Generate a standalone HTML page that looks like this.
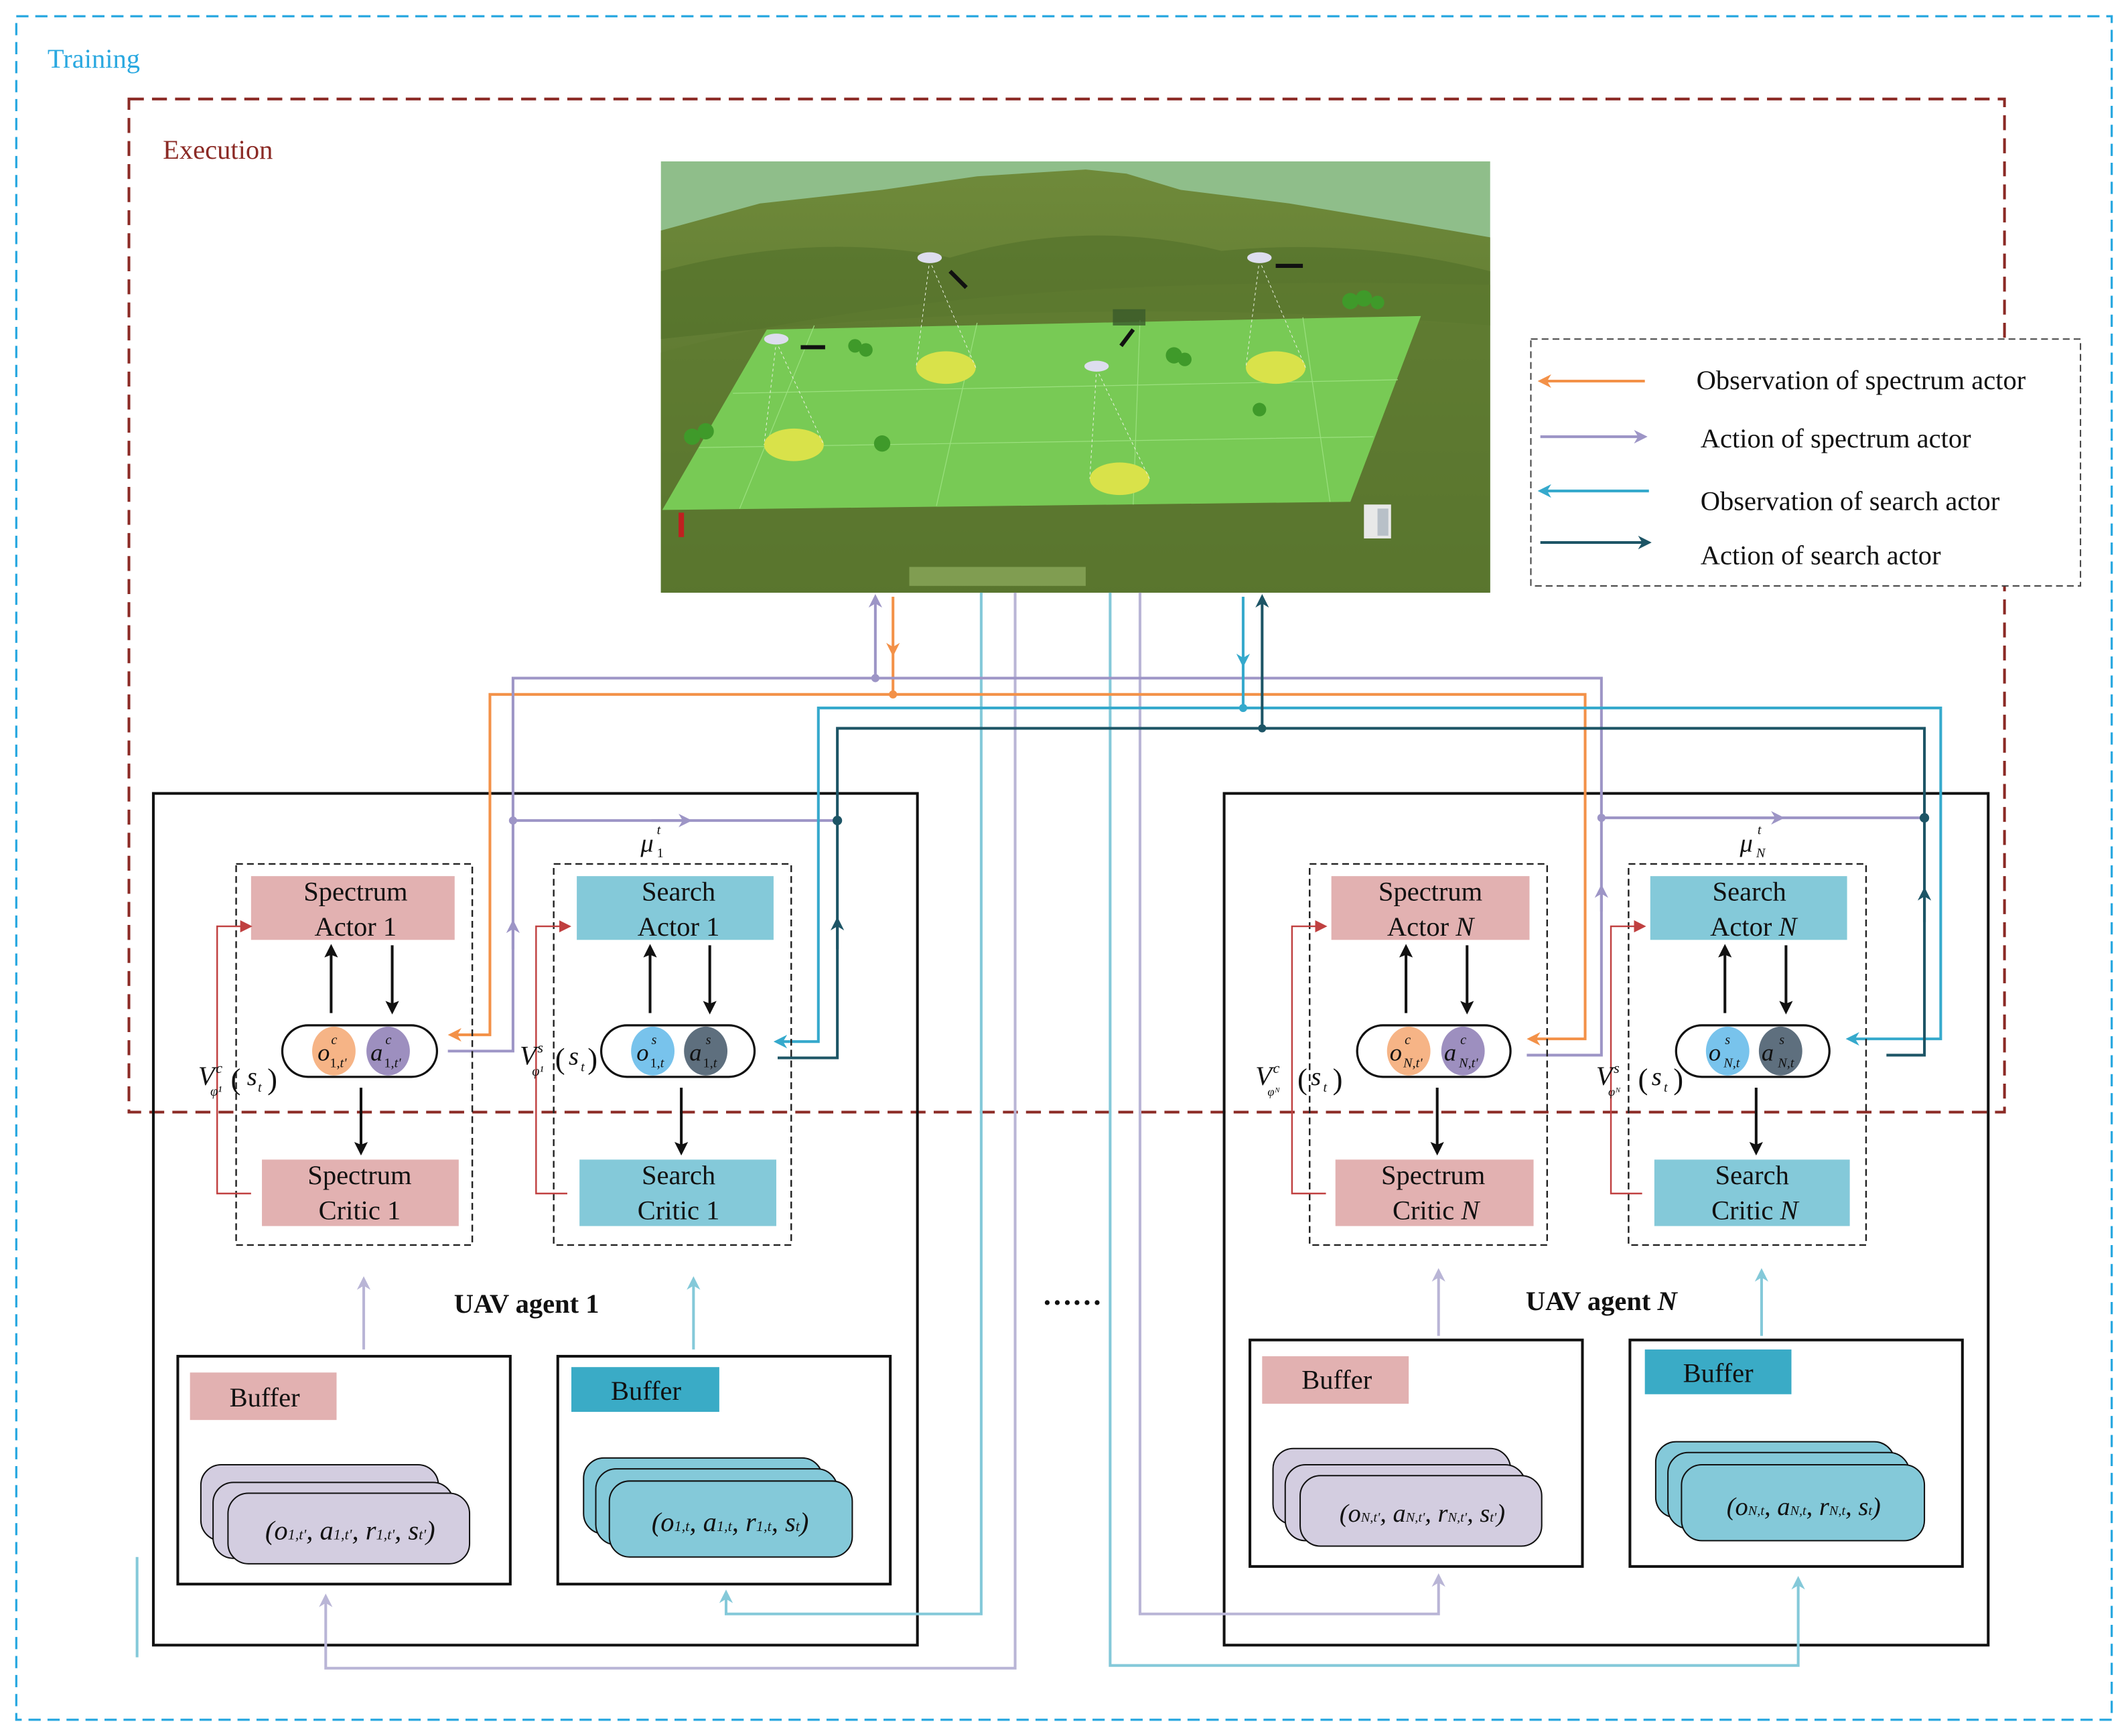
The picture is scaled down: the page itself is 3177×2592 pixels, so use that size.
<!DOCTYPE html>
<html><head><meta charset="utf-8"><style>
html,body{margin:0;padding:0;background:#fff}
svg{display:block}
text{font-family:"Liberation Serif",serif;fill:#111}
.it{font-style:italic}
</style></head><body>
<svg width="3177" height="2592" viewBox="0 0 1568 1280" preserveAspectRatio="none" xmlns="http://www.w3.org/2000/svg">
<defs>
<marker id="aO" markerWidth="10" markerHeight="10" refX="8" refY="5" orient="auto" markerUnits="userSpaceOnUse"><path d="M0,0 L10,5 L0,10 L3,5z" fill="#f39148"/></marker>
<marker id="aP" markerWidth="10" markerHeight="10" refX="8" refY="5" orient="auto" markerUnits="userSpaceOnUse"><path d="M0,0 L10,5 L0,10 L3,5z" fill="#9d95c6"/></marker>
<marker id="aL" markerWidth="10" markerHeight="10" refX="8" refY="5" orient="auto" markerUnits="userSpaceOnUse"><path d="M0,0 L10,5 L0,10 L3,5z" fill="#b9b5d6"/></marker>
<marker id="aC" markerWidth="10" markerHeight="10" refX="8" refY="5" orient="auto" markerUnits="userSpaceOnUse"><path d="M0,0 L10,5 L0,10 L3,5z" fill="#35a9cc"/></marker>
<marker id="aLC" markerWidth="10" markerHeight="10" refX="8" refY="5" orient="auto" markerUnits="userSpaceOnUse"><path d="M0,0 L10,5 L0,10 L3,5z" fill="#84c9d9"/></marker>
<marker id="aT" markerWidth="10" markerHeight="10" refX="8" refY="5" orient="auto" markerUnits="userSpaceOnUse"><path d="M0,0 L10,5 L0,10 L3,5z" fill="#1d5566"/></marker>
<marker id="aK" markerWidth="10" markerHeight="10" refX="8" refY="5" orient="auto" markerUnits="userSpaceOnUse"><path d="M0,0 L10,5 L0,10 L2,5z" fill="#111"/></marker>
<marker id="aR" markerWidth="9" markerHeight="9" refX="7" refY="4.5" orient="auto" markerUnits="userSpaceOnUse"><path d="M0,0 L9,4.5 L0,9z" fill="#c04040"/></marker>
<linearGradient id="gnd" x1="0" y1="0" x2="0" y2="1"><stop offset="0" stop-color="#6f8a3a"/><stop offset="1" stop-color="#4f6a2a"/></linearGradient>
</defs>

<rect x="12" y="12" width="1544" height="1256" fill="none" stroke="#29a8e0" stroke-width="1.6" stroke-dasharray="9,5"/>
<text x="35" y="50" font-size="20" style="fill:#29a8e0">Training</text>

<g>
<rect x="487" y="119" width="611" height="318" fill="#8fbe8a"/>
<path d="M487,170 L560,150 L650,140 L720,130 L800,125 L830,128 L870,140 L950,150 L1040,165 L1098,175 L1098,437 L487,437z" fill="url(#gnd)"/>
<path d="M487,200 Q600,170 700,190 Q800,160 900,185 Q1000,175 1098,200 L1098,240 Q800,215 487,250z" fill="#52702a" opacity="0.6"/>
<path d="M487,260 Q700,200 1098,210 L1098,437 L487,437z" fill="#5e7a30" opacity="0.7"/>
<path d="M565,243 L1047,233 L995,370 L488,376z" fill="#7bd35a" opacity="0.9"/>
<path d="M600,240 L545,375 M720,238 L690,373 M840,236 L835,372 M960,234 L980,370 M540,290 L1030,280 M515,330 L1012,322" stroke="#9be07e" stroke-width="0.6" fill="none"/>
<ellipse cx="585" cy="328" rx="22" ry="12" fill="#d9e24a"/>
<ellipse cx="697" cy="271" rx="22" ry="12" fill="#d9e24a"/>
<ellipse cx="940" cy="271" rx="22" ry="12" fill="#d9e24a"/>
<ellipse cx="825" cy="353" rx="22" ry="12" fill="#d9e24a"/>
<g stroke="#e8f0e0" stroke-width="0.5" stroke-dasharray="2,2" fill="none">
<path d="M572,252 L563,328 M572,252 L607,328 M685,192 L675,271 M685,192 L719,271 M928,192 L918,271 M928,192 L962,271 M808,272 L803,353 M808,272 L847,353"/>
</g>
<g fill="#dde">
<ellipse cx="572" cy="250" rx="9" ry="4"/><ellipse cx="685" cy="190" rx="9" ry="4"/><ellipse cx="928" cy="190" rx="9" ry="4"/><ellipse cx="808" cy="270" rx="9" ry="4"/>
</g>
<g fill="#3f9a2a">
<circle cx="630" cy="255" r="5"/><circle cx="638" cy="258" r="5"/><circle cx="865" cy="262" r="6"/><circle cx="873" cy="265" r="5"/>
<circle cx="995" cy="222" r="6"/><circle cx="1005" cy="220" r="6"/><circle cx="1015" cy="223" r="5"/>
<circle cx="510" cy="322" r="6"/><circle cx="520" cy="318" r="6"/><circle cx="650" cy="327" r="6"/><circle cx="928" cy="302" r="5"/>
</g>
<rect x="820" y="228" width="24" height="12" fill="#3a5a2a" opacity="0.8"/>
<rect x="500" y="378" width="4" height="18" fill="#c02020"/>
<rect x="670" y="418" width="130" height="14" fill="#8aa85a" opacity="0.8"/>
<rect x="1005" y="372" width="20" height="25" fill="#e8e8e8"/>
<rect x="1015" y="375" width="8" height="20" fill="#b8c0c8"/>
<path d="M590,256 L608,256 M700,200 L712,212 M940,196 L960,196 M826,255 L835,243" stroke="#111" stroke-width="3" fill="none"/>
</g>

<rect x="95" y="73" width="1382" height="747" fill="none" stroke="#8b2a25" stroke-width="2" stroke-dasharray="11,6"/>
<text x="120" y="117" font-size="20" style="fill:#8b2a25">Execution</text>

<rect x="1128" y="250" width="405" height="182" fill="#fff" stroke="#444" stroke-width="1" stroke-dasharray="5,3"/>
<line x1="1212" y1="281" x2="1135" y2="281" stroke="#f39148" stroke-width="2" marker-end="url(#aO)"/>
<line x1="1135" y1="322" x2="1212" y2="322" stroke="#9d95c6" stroke-width="2" marker-end="url(#aP)"/>
<line x1="1215" y1="362" x2="1135" y2="362" stroke="#35a9cc" stroke-width="2" marker-end="url(#aC)"/>
<line x1="1135" y1="400" x2="1215" y2="400" stroke="#1d5566" stroke-width="2" marker-end="url(#aT)"/>
<text x="1250" y="287" font-size="20">Observation of spectrum actor</text>
<text x="1253" y="330" font-size="20">Action of spectrum actor</text>
<text x="1253" y="376" font-size="20">Observation of search actor</text>
<text x="1253" y="416" font-size="20">Action of search actor</text>

<rect x="113" y="585" width="563" height="628" fill="none" stroke="#111" stroke-width="2"/>
<rect x="902" y="585" width="563" height="628" fill="none" stroke="#111" stroke-width="2"/>

<polyline points="723,437 723,1190 535,1190 535,1174" fill="none" stroke="#84c9d9" stroke-width="2" marker-end="url(#aLC)"/>
<polyline points="748,437 748,1230 240,1230 240,1177" fill="none" stroke="#b9b5d6" stroke-width="2" marker-end="url(#aL)"/>
<polyline points="818,437 818,1228 1325,1228 1325,1164" fill="none" stroke="#84c9d9" stroke-width="2" marker-end="url(#aLC)"/>
<polyline points="840,437 840,1190 1060,1190 1060,1162" fill="none" stroke="#b9b5d6" stroke-width="2" marker-end="url(#aL)"/>
<line x1="101" y1="1148" x2="101" y2="1222" stroke="#84c9d9" stroke-width="2"/>

<line x1="658" y1="440" x2="658" y2="482" stroke="#f39148" stroke-width="2" marker-end="url(#aO)"/>
<polyline points="658,480 658,512 361,512 361,763 332,763" fill="none" stroke="#f39148" stroke-width="2" marker-end="url(#aO)"/>
<polyline points="658,512 1168,512 1168,766 1127,766" fill="none" stroke="#f39148" stroke-width="2" marker-end="url(#aO)"/>
<circle cx="658" cy="512" r="3" fill="#f39148"/>
<polyline points="330,775 378,775 378,500 1180,500 1180,778 1125,778" fill="none" stroke="#9d95c6" stroke-width="2"/>
<line x1="645" y1="500" x2="645" y2="440" stroke="#9d95c6" stroke-width="2" marker-end="url(#aP)"/>
<circle cx="645" cy="500" r="3" fill="#9d95c6"/>
<line x1="378" y1="700" x2="378" y2="680" stroke="#9d95c6" stroke-width="2" marker-end="url(#aP)"/>
<line x1="1180" y1="672" x2="1180" y2="654" stroke="#9d95c6" stroke-width="2" marker-end="url(#aP)"/>
<line x1="378" y1="605" x2="617" y2="605" stroke="#9d95c6" stroke-width="2"/>
<line x1="480" y1="605" x2="508" y2="605" stroke="#9d95c6" stroke-width="2" marker-end="url(#aP)"/>
<circle cx="378" cy="605" r="3" fill="#9d95c6"/>
<line x1="1180" y1="603" x2="1418" y2="603" stroke="#9d95c6" stroke-width="2"/>
<line x1="1290" y1="603" x2="1313" y2="603" stroke="#9d95c6" stroke-width="2" marker-end="url(#aP)"/>
<circle cx="1180" cy="603" r="3" fill="#9d95c6"/>
<line x1="916" y1="440" x2="916" y2="490" stroke="#35a9cc" stroke-width="2" marker-end="url(#aC)"/>
<polyline points="916,488 916,522 603,522 603,768 572,768" fill="none" stroke="#35a9cc" stroke-width="2" marker-end="url(#aC)"/>
<polyline points="916,522 1430,522 1430,766 1362,766" fill="none" stroke="#35a9cc" stroke-width="2" marker-end="url(#aC)"/>
<circle cx="916" cy="522" r="3" fill="#35a9cc"/>
<polyline points="573,780 617,780 617,537 1418,537 1418,778 1390,778" fill="none" stroke="#1d5566" stroke-width="2"/>
<line x1="930" y1="537" x2="930" y2="440" stroke="#1d5566" stroke-width="2" marker-end="url(#aT)"/>
<circle cx="930" cy="537" r="3" fill="#1d5566"/>
<circle cx="617" cy="605" r="3.5" fill="#1d5566"/>
<circle cx="1418" cy="603" r="3.5" fill="#1d5566"/>
<line x1="617" y1="700" x2="617" y2="678" stroke="#1d5566" stroke-width="2" marker-end="url(#aT)"/>
<line x1="1418" y1="680" x2="1418" y2="656" stroke="#1d5566" stroke-width="2" marker-end="url(#aT)"/>

<g>
<rect x="174" y="637" width="174" height="281" fill="none" stroke="#222" stroke-width="1.2" stroke-dasharray="5,3"/>
<rect x="408" y="637" width="175" height="281" fill="none" stroke="#222" stroke-width="1.2" stroke-dasharray="5,3"/>
<rect x="185" y="646" width="150" height="47" fill="#e2b1b1"/>
<text x="262" y="664" font-size="20" text-anchor="middle">Spectrum</text>
<text x="262" y="690" font-size="20" text-anchor="middle">Actor 1</text>
<rect x="425" y="646" width="145" height="47" fill="#84c9d9"/>
<text x="500" y="664" font-size="20" text-anchor="middle">Search</text>
<text x="500" y="690" font-size="20" text-anchor="middle">Actor 1</text>
<rect x="193" y="855" width="145" height="49" fill="#e2b1b1"/>
<text x="265" y="873" font-size="20" text-anchor="middle">Spectrum</text>
<text x="265" y="899" font-size="20" text-anchor="middle">Critic 1</text>
<rect x="427" y="855" width="145" height="49" fill="#84c9d9"/>
<text x="500" y="873" font-size="20" text-anchor="middle">Search</text>
<text x="500" y="899" font-size="20" text-anchor="middle">Critic 1</text>
<rect x="208" y="756" width="114" height="38" rx="19" fill="#fff" stroke="#111" stroke-width="1.6"/>
<ellipse cx="246" cy="775" rx="16" ry="18" fill="#f6b486"/>
<ellipse cx="286" cy="775" rx="16" ry="18" fill="#9d8fbf"/>
<text x="234" y="782" font-size="18" class="it">o</text><text x="244" y="770" font-size="10" class="it">c</text><text x="243" y="787" font-size="10">1,<tspan class="it">t'</tspan></text>
<text x="273" y="782" font-size="18" class="it">a</text><text x="284" y="770" font-size="10" class="it">c</text><text x="283" y="787" font-size="10">1,<tspan class="it">t'</tspan></text>
<rect x="443" y="756" width="113" height="38" rx="19" fill="#fff" stroke="#111" stroke-width="1.6"/>
<ellipse cx="481" cy="775" rx="16" ry="18" fill="#78c3ec"/>
<ellipse cx="520" cy="775" rx="16" ry="18" fill="#5e6f7e"/>
<text x="469" y="782" font-size="18" class="it">o</text><text x="480" y="770" font-size="10" class="it">s</text><text x="479" y="787" font-size="10">1,<tspan class="it">t</tspan></text>
<text x="508" y="782" font-size="18" class="it">a</text><text x="520" y="770" font-size="10" class="it">s</text><text x="518" y="787" font-size="10">1,<tspan class="it">t</tspan></text>
<line x1="244" y1="747" x2="244" y2="698" stroke="#111" stroke-width="2" marker-end="url(#aK)"/>
<line x1="289" y1="697" x2="289" y2="746" stroke="#111" stroke-width="2" marker-end="url(#aK)"/>
<line x1="266" y1="802" x2="266" y2="850" stroke="#111" stroke-width="2" marker-end="url(#aK)"/>
<line x1="479" y1="747" x2="479" y2="698" stroke="#111" stroke-width="2" marker-end="url(#aK)"/>
<line x1="523" y1="697" x2="523" y2="746" stroke="#111" stroke-width="2" marker-end="url(#aK)"/>
<line x1="502" y1="802" x2="502" y2="850" stroke="#111" stroke-width="2" marker-end="url(#aK)"/>
<polyline points="185,880 160,880 160,683 184,683" fill="none" stroke="#c04040" stroke-width="1.2" marker-end="url(#aR)"/>
<polyline points="418,880 395,880 395,683 419,683" fill="none" stroke="#c04040" stroke-width="1.2" marker-end="url(#aR)"/>
<text x="146" y="800" font-size="20" class="it">V</text><text x="159" y="791" font-size="11" class="it">c</text><text x="155" y="808" font-size="10" class="it">φ¹</text>
<text x="170" y="803" font-size="22">(</text><text x="182" y="800" font-size="19" class="it">s</text><text x="190" y="805" font-size="10" class="it">t</text><text x="197" y="803" font-size="22">)</text>
<text x="383" y="785" font-size="20" class="it">V</text><text x="396" y="776" font-size="11" class="it">s</text><text x="392" y="793" font-size="10" class="it">φ¹</text>
<text x="409" y="788" font-size="22">(</text><text x="419" y="785" font-size="19" class="it">s</text><text x="428" y="790" font-size="10" class="it">t</text><text x="433" y="788" font-size="22">)</text>
<text x="472" y="628" font-size="19" class="it">μ</text><text x="484" y="615" font-size="10" class="it">t</text><text x="484" y="632" font-size="10">1</text>
<text x="388" y="968" font-size="20" font-weight="bold" text-anchor="middle">UAV agent 1</text>
<line x1="268" y1="995" x2="268" y2="943" stroke="#b9b5d6" stroke-width="2" marker-end="url(#aL)"/>
<line x1="511" y1="995" x2="511" y2="943" stroke="#84c9d9" stroke-width="2" marker-end="url(#aLC)"/>
<rect x="131" y="1000" width="245" height="168" fill="none" stroke="#111" stroke-width="2"/>
<rect x="411" y="1000" width="245" height="168" fill="none" stroke="#111" stroke-width="2"/>
<rect x="140" y="1012" width="108" height="35" fill="#e2b1b1"/>
<text x="195" y="1037" font-size="20" text-anchor="middle">Buffer</text>
<rect x="421" y="1008" width="109" height="33" fill="#3aabc6"/>
<text x="476" y="1032" font-size="20" text-anchor="middle">Buffer</text>
<rect x="148" y="1080" width="175" height="56" rx="15" fill="#d3cde0" stroke="#111" stroke-width="1"/>
<rect x="157" y="1093" width="177" height="56" rx="15" fill="#d3cde0" stroke="#111" stroke-width="1"/>
<rect x="168" y="1101" width="178" height="52" rx="15" fill="#d3cde0" stroke="#111" stroke-width="1"/>
<text x="258" y="1135" font-size="20" text-anchor="middle" class="it">(o<tspan font-size="11">1,t'</tspan>, a<tspan font-size="11">1,t'</tspan>, r<tspan font-size="11">1,t'</tspan>, s<tspan font-size="11">t'</tspan>)</text>
<rect x="430" y="1075" width="176" height="56" rx="15" fill="#84c9d9" stroke="#111" stroke-width="1"/>
<rect x="439" y="1083" width="178" height="56" rx="15" fill="#84c9d9" stroke="#111" stroke-width="1"/>
<rect x="449" y="1092" width="179" height="56" rx="15" fill="#84c9d9" stroke="#111" stroke-width="1"/>
<text x="538" y="1129" font-size="20" text-anchor="middle" class="it">(o<tspan font-size="11">1,t</tspan>, a<tspan font-size="11">1,t</tspan>, r<tspan font-size="11">1,t</tspan>, s<tspan font-size="11">t</tspan>)</text>
</g>

<text x="790" y="962" font-size="22" text-anchor="middle" font-weight="bold">……</text>

<g>
<rect x="965" y="637" width="175" height="281" fill="none" stroke="#222" stroke-width="1.2" stroke-dasharray="5,3"/>
<rect x="1200" y="637" width="175" height="281" fill="none" stroke="#222" stroke-width="1.2" stroke-dasharray="5,3"/>
<rect x="981" y="646" width="146" height="47" fill="#e2b1b1"/>
<text x="1054" y="664" font-size="20" text-anchor="middle">Spectrum</text>
<text x="1054" y="690" font-size="20" text-anchor="middle">Actor <tspan class="it">N</tspan></text>
<rect x="1216" y="646" width="145" height="47" fill="#84c9d9"/>
<text x="1289" y="664" font-size="20" text-anchor="middle">Search</text>
<text x="1292" y="690" font-size="20" text-anchor="middle">Actor <tspan class="it">N</tspan></text>
<rect x="984" y="855" width="146" height="49" fill="#e2b1b1"/>
<text x="1056" y="873" font-size="20" text-anchor="middle">Spectrum</text>
<text x="1058" y="899" font-size="20" text-anchor="middle">Critic <tspan class="it">N</tspan></text>
<rect x="1219" y="855" width="144" height="49" fill="#84c9d9"/>
<text x="1291" y="873" font-size="20" text-anchor="middle">Search</text>
<text x="1293" y="899" font-size="20" text-anchor="middle">Critic <tspan class="it">N</tspan></text>
<rect x="1000" y="756" width="113" height="38" rx="19" fill="#fff" stroke="#111" stroke-width="1.6"/>
<ellipse cx="1038" cy="775" rx="16" ry="18" fill="#f6b486"/>
<ellipse cx="1078" cy="775" rx="16" ry="18" fill="#9d8fbf"/>
<text x="1024" y="782" font-size="18" class="it">o</text><text x="1035" y="770" font-size="10" class="it">c</text><text x="1034" y="787" font-size="10" class="it">N,t'</text>
<text x="1064" y="782" font-size="18" class="it">a</text><text x="1076" y="770" font-size="10" class="it">c</text><text x="1075" y="787" font-size="10" class="it">N,t'</text>
<rect x="1235" y="756" width="113" height="38" rx="19" fill="#fff" stroke="#111" stroke-width="1.6"/>
<ellipse cx="1273" cy="775" rx="16" ry="18" fill="#78c3ec"/>
<ellipse cx="1312" cy="775" rx="16" ry="18" fill="#5e6f7e"/>
<text x="1259" y="782" font-size="18" class="it">o</text><text x="1271" y="770" font-size="10" class="it">s</text><text x="1270" y="787" font-size="10" class="it">N,t</text>
<text x="1298" y="782" font-size="18" class="it">a</text><text x="1311" y="770" font-size="10" class="it">s</text><text x="1310" y="787" font-size="10" class="it">N,t</text>
<line x1="1036" y1="747" x2="1036" y2="698" stroke="#111" stroke-width="2" marker-end="url(#aK)"/>
<line x1="1081" y1="697" x2="1081" y2="746" stroke="#111" stroke-width="2" marker-end="url(#aK)"/>
<line x1="1059" y1="802" x2="1059" y2="850" stroke="#111" stroke-width="2" marker-end="url(#aK)"/>
<line x1="1271" y1="747" x2="1271" y2="698" stroke="#111" stroke-width="2" marker-end="url(#aK)"/>
<line x1="1316" y1="697" x2="1316" y2="746" stroke="#111" stroke-width="2" marker-end="url(#aK)"/>
<line x1="1294" y1="802" x2="1294" y2="850" stroke="#111" stroke-width="2" marker-end="url(#aK)"/>
<polyline points="977,880 952,880 952,683 976,683" fill="none" stroke="#c04040" stroke-width="1.2" marker-end="url(#aR)"/>
<polyline points="1210,880 1187,880 1187,683 1211,683" fill="none" stroke="#c04040" stroke-width="1.2" marker-end="url(#aR)"/>
<text x="925" y="800" font-size="20" class="it">V</text><text x="938" y="791" font-size="11" class="it">c</text><text x="934" y="808" font-size="9" class="it">φᴺ</text>
<text x="956" y="803" font-size="22">(</text><text x="966" y="800" font-size="19" class="it">s</text><text x="975" y="805" font-size="10" class="it">t</text><text x="982" y="803" font-size="22">)</text>
<text x="1176" y="800" font-size="20" class="it">V</text><text x="1189" y="791" font-size="11" class="it">s</text><text x="1185" y="808" font-size="9" class="it">φᴺ</text>
<text x="1207" y="803" font-size="22">(</text><text x="1217" y="800" font-size="19" class="it">s</text><text x="1226" y="805" font-size="10" class="it">t</text><text x="1233" y="803" font-size="22">)</text>
<text x="1282" y="628" font-size="19" class="it">μ</text><text x="1295" y="615" font-size="10" class="it">t</text><text x="1294" y="632" font-size="10" class="it">N</text>
<text x="1180" y="966" font-size="20" font-weight="bold" text-anchor="middle">UAV agent <tspan class="it">N</tspan></text>
<line x1="1060" y1="985" x2="1060" y2="937" stroke="#b9b5d6" stroke-width="2" marker-end="url(#aL)"/>
<line x1="1298" y1="985" x2="1298" y2="937" stroke="#84c9d9" stroke-width="2" marker-end="url(#aLC)"/>
<rect x="921" y="988" width="245" height="167" fill="none" stroke="#111" stroke-width="2"/>
<rect x="1201" y="988" width="245" height="167" fill="none" stroke="#111" stroke-width="2"/>
<rect x="930" y="1000" width="108" height="35" fill="#e2b1b1"/>
<text x="985" y="1024" font-size="20" text-anchor="middle">Buffer</text>
<rect x="1212" y="995" width="108" height="33" fill="#3aabc6"/>
<text x="1266" y="1019" font-size="20" text-anchor="middle">Buffer</text>
<rect x="938" y="1068" width="175" height="56" rx="15" fill="#d3cde0" stroke="#111" stroke-width="1"/>
<rect x="947" y="1080" width="177" height="56" rx="15" fill="#d3cde0" stroke="#111" stroke-width="1"/>
<rect x="958" y="1088" width="178" height="52" rx="15" fill="#d3cde0" stroke="#111" stroke-width="1"/>
<text x="1048" y="1122" font-size="19" text-anchor="middle" class="it">(o<tspan font-size="10">N,t'</tspan>, a<tspan font-size="10">N,t'</tspan>, r<tspan font-size="10">N,t'</tspan>, s<tspan font-size="10">t'</tspan>)</text>
<rect x="1220" y="1063" width="176" height="56" rx="15" fill="#84c9d9" stroke="#111" stroke-width="1"/>
<rect x="1229" y="1071" width="178" height="56" rx="15" fill="#84c9d9" stroke="#111" stroke-width="1"/>
<rect x="1239" y="1080" width="179" height="56" rx="15" fill="#84c9d9" stroke="#111" stroke-width="1"/>
<text x="1329" y="1117" font-size="19" text-anchor="middle" class="it">(o<tspan font-size="10">N,t</tspan>, a<tspan font-size="10">N,t</tspan>, r<tspan font-size="10">N,t</tspan>, s<tspan font-size="10">t</tspan>)</text>
</g>
</svg>
</body></html>
